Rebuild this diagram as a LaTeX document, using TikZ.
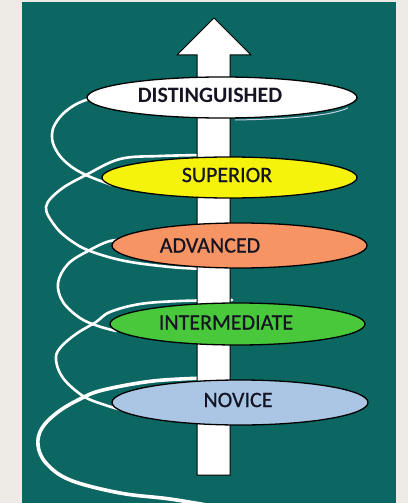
\documentclass[tikz,border=0pt]{standalone}
\usepackage{fontspec}
\setmainfont{Carlito}
\newfontfamily\lvlfont{Carlito}[BoldFont=Carlito, BoldFeatures={FakeBold=0.7}]
\usetikzlibrary{shapes.geometric}
\definecolor{panel}{RGB}{12,102,98}
\definecolor{frame}{RGB}{238,235,230}
\definecolor{lvlYellow}{RGB}{245,242,12}
\definecolor{lvlSalmon}{RGB}{247,148,100}
\definecolor{lvlGreen}{RGB}{72,200,58}
\definecolor{lvlBlue}{RGB}{170,198,228}
\definecolor{ink}{RGB}{20,20,34}

\begin{document}
\begin{tikzpicture}[x=1pt, y=-1pt,
  lvl/.style={ellipse, draw=black, line width=1.3pt, inner sep=0pt},
  lvltxt/.style={font=\fontsize{22}{24}\lvlfont\bfseries, text=ink, inner sep=0pt},
  lvlbold/.style={lvltxt, font=\fontsize{22}{24}\selectfont\bfseries},
  coil/.style={white, line width=2.6pt, line cap=round},
  shaft/.style={fill=white, draw=black, line width=1pt, line join=miter}]
  % page and panel
  \fill[frame] (0,0) rectangle (408,503);
  \fill[panel] (22,2) rectangle (396,503);
  \useasboundingbox (0,0) rectangle (408,503);

  % spiral strands first, so arrow and ellipses sit on top
  \draw[coil] plot[smooth, tension=0.7] coordinates
    {(96,99) (86,100) (70,108) (57,121) (52,135) (56,150) (68,164) (86,175) (112,185)};
  \draw[coil] plot[smooth, tension=0.6] coordinates
    {(205,155) (160,156) (120,159) (86,175) (60,190) (46,207) (55,226)
     (70,240) (90,251) (125,261) (170,267) (205,269)};
  \draw[coil] plot[smooth, tension=0.6] coordinates
    {(130,240) (110,241) (88,251) (68,264) (58,283) (63,302) (80,318)
     (98,326) (116,331)};
  \draw[coil] plot[smooth, tension=0.6] coordinates
    {(232,300) (180,301) (140,304) (110,312) (96,322) (76,334) (60,348)
     (56,360) (63,378) (83,396) (105,405) (122,410)};
  \draw[coil, line width=3.6pt] plot[smooth, tension=0.6] coordinates
    {(205,378) (153,381) (103,390) (80,399) (58,412) (42,428) (38,445)
     (46,463) (70,480) (120,493) (170,499) (218,507)};
  % faint rim under the top level
  \draw[blue!30!panel!25!white, line width=1pt] (235,120) .. controls (290,119) and (330,116) .. (348,108);

  % the arrow up the middle
  \draw[shaft] (197,475) -- (197,55) -- (177,55) -- (214,18) -- (251,55)
    -- (230,55) -- (230,475) -- cycle;

  % levels
  \node[lvl, fill=white, minimum width=270, minimum height=41] (dist) at (222,97.5) {};
  \node[lvl, fill=lvlYellow, minimum width=255, minimum height=41] (sup) at (229.5,177.5) {};
  \node[lvl, fill=lvlSalmon, minimum width=255, minimum height=45] (adv) at (239.5,245.5) {};
  \node[lvl, fill=lvlGreen, minimum width=255, minimum height=42] (int) at (237.5,324) {};
  \node[lvl, fill=lvlBlue, minimum width=256, minimum height=45] (nov) at (240,402.5) {};

  \node[lvlbold] (distTxt) at (210,95.5) {DISTINGUISHED};
  \node[lvltxt] (supTxt) at (227,175) {SUPERIOR};
  \node[lvltxt] (advTxt) at (210,245.5) {ADVANCED};
  \node[lvltxt] (intTxt) at (226,322.5) {INTERMEDIATE};
  \node[lvltxt] (novTxt) at (238,400) {NOVICE};
\end{tikzpicture}
\end{document}
